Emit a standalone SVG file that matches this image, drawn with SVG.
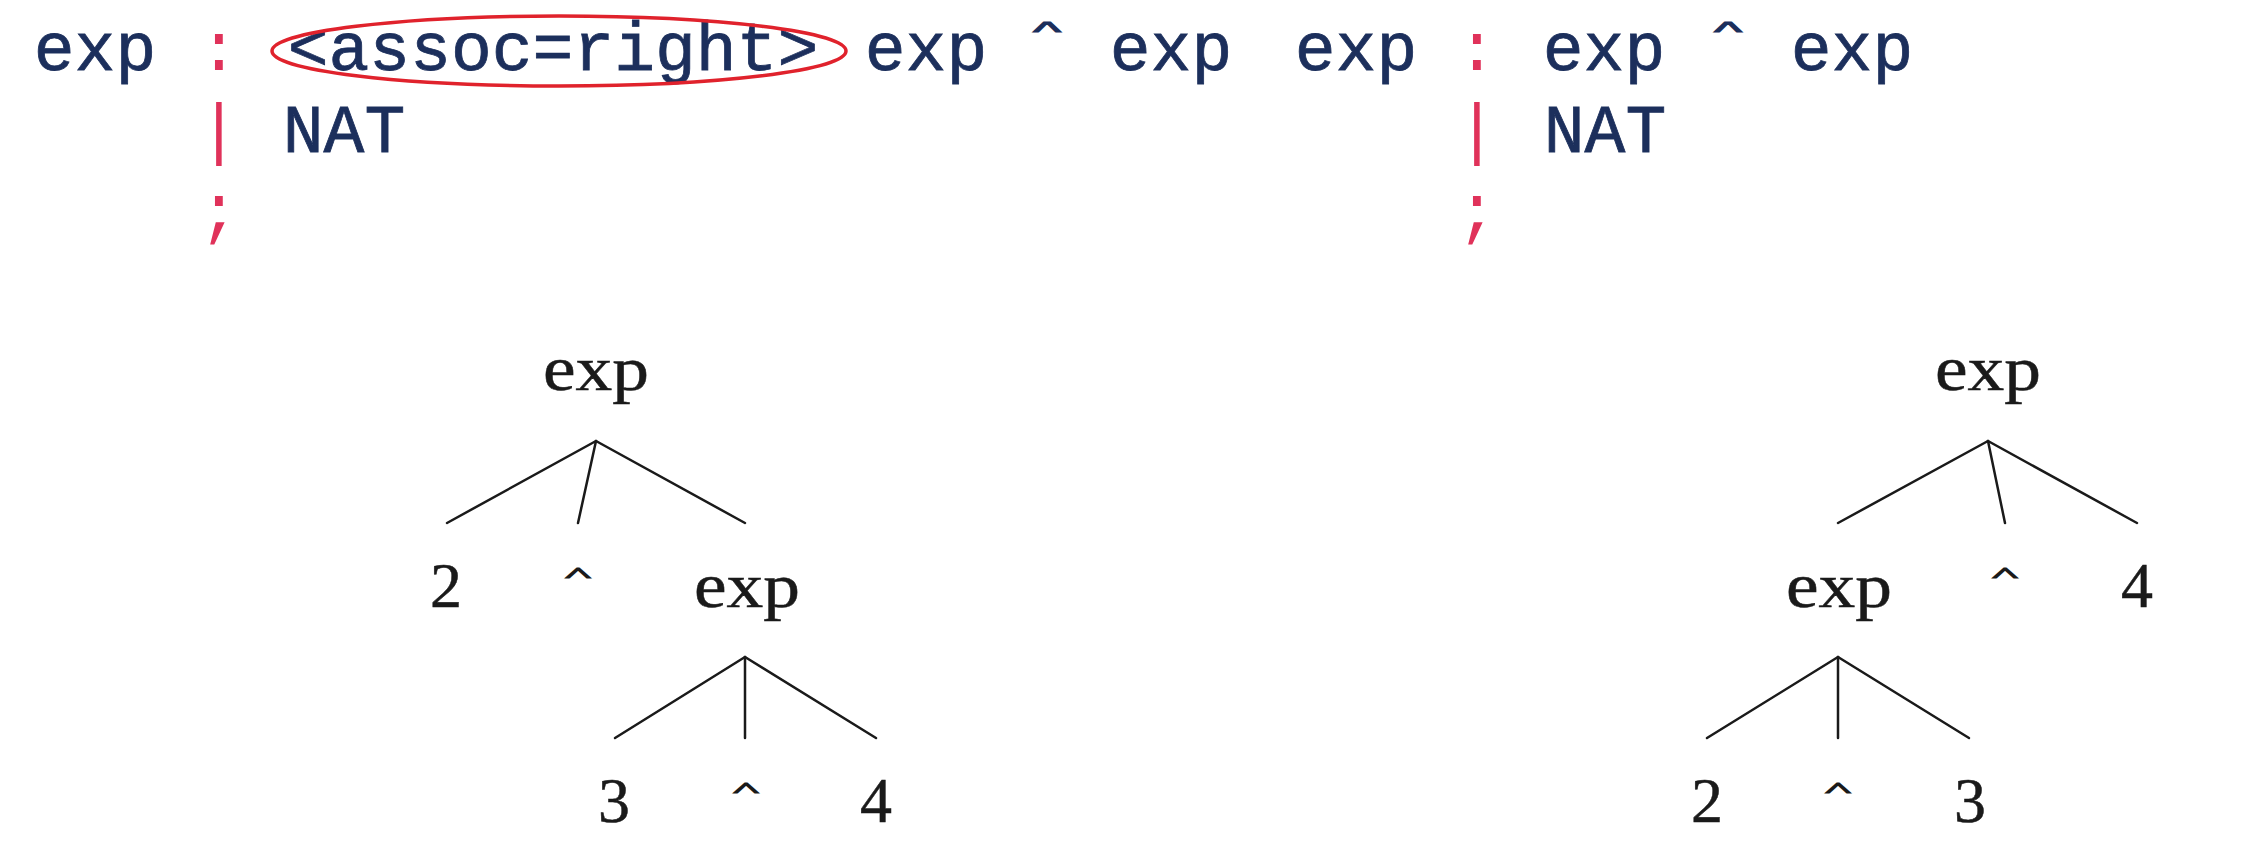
<svg xmlns="http://www.w3.org/2000/svg" width="2248" height="858" viewBox="0 0 2248 858">
<style>
.code{font-family:"Liberation Mono","DejaVu Sans Mono",monospace;font-size:68px;fill:#1c2f5c;stroke:#1c2f5c;stroke-width:0.8;text-anchor:middle}
.ccaret{stroke-width:3}
.punct{font-family:"Liberation Mono","DejaVu Sans Mono",monospace;font-size:68px;fill:#e0325a;text-anchor:middle}
.tree{font-family:"Liberation Serif","DejaVu Serif",serif;font-size:64px;fill:#1a1a1a;stroke:#1a1a1a;stroke-width:0.5;text-anchor:middle}
.tcaret{stroke-width:3}
.edge{stroke:#1a1a1a;stroke-width:2.5;fill:none;stroke-linecap:round}
</style>
<rect width="2248" height="858" fill="#ffffff"/>
<g id="grammar-left">
<text class="code" x="95" y="70">exp</text>
<text class="punct" x="219" y="70">:</text>
<text class="code" x="553" y="70">&lt;assoc=right&gt;</text>
<text class="code" x="926" y="70">exp</text>
<text class="code ccaret" transform="translate(1047 37) scale(0.85 0.32)">^</text>
<text class="code" x="1171" y="70">exp</text>
<text class="punct" x="219" y="152">|</text>
<text class="code" x="344" y="152">NAT</text>
<text class="punct" x="219" y="232">;</text>
<ellipse cx="559" cy="51" rx="287" ry="35" fill="none" stroke="#e0222c" stroke-width="3.5"/>
</g>
<g id="grammar-right">
<text class="code" x="1356" y="70">exp</text>
<text class="punct" x="1477" y="70">:</text>
<text class="code" x="1604" y="70">exp</text>
<text class="code ccaret" transform="translate(1728 37) scale(0.85 0.32)">^</text>
<text class="code" x="1852" y="70">exp</text>
<text class="punct" x="1477" y="152">|</text>
<text class="code" x="1605" y="152">NAT</text>
<text class="punct" x="1477" y="232">;</text>
</g>
<g id="connectors">
<line class="edge" x1="596" y1="441" x2="447" y2="523"/>
<line class="edge" x1="596" y1="441" x2="578" y2="523"/>
<line class="edge" x1="596" y1="441" x2="745" y2="523"/>
<line class="edge" x1="745" y1="657" x2="615" y2="738"/>
<line class="edge" x1="745" y1="657" x2="745" y2="738"/>
<line class="edge" x1="745" y1="657" x2="876" y2="738"/>
<line class="edge" x1="1988" y1="441" x2="1838" y2="523"/>
<line class="edge" x1="1988" y1="441" x2="2005" y2="523"/>
<line class="edge" x1="1988" y1="441" x2="2137" y2="523"/>
<line class="edge" x1="1838" y1="657" x2="1707" y2="738"/>
<line class="edge" x1="1838" y1="657" x2="1838" y2="738"/>
<line class="edge" x1="1838" y1="657" x2="1969" y2="738"/>
</g>
<g id="left-root"><text class="tree" x="596" y="390" textLength="106" lengthAdjust="spacingAndGlyphs">exp</text></g>
<g id="left-2"><text class="tree" x="446" y="607">2</text></g>
<g id="left-caret1"><text class="tree tcaret" transform="translate(578 582) scale(0.85 0.34)">^</text></g>
<g id="left-exp2"><text class="tree" x="747" y="607" textLength="106" lengthAdjust="spacingAndGlyphs">exp</text></g>
<g id="left-3"><text class="tree" x="614" y="822">3</text></g>
<g id="left-caret2"><text class="tree tcaret" transform="translate(746 797) scale(0.85 0.34)">^</text></g>
<g id="left-4"><text class="tree" x="876" y="822">4</text></g>
<g id="right-root"><text class="tree" x="1988" y="390" textLength="106" lengthAdjust="spacingAndGlyphs">exp</text></g>
<g id="right-exp2"><text class="tree" x="1839" y="607" textLength="106" lengthAdjust="spacingAndGlyphs">exp</text></g>
<g id="right-caret1"><text class="tree tcaret" transform="translate(2005 582) scale(0.85 0.34)">^</text></g>
<g id="right-4"><text class="tree" x="2137" y="607">4</text></g>
<g id="right-2"><text class="tree" x="1707" y="822">2</text></g>
<g id="right-caret2"><text class="tree tcaret" transform="translate(1838 797) scale(0.85 0.34)">^</text></g>
<g id="right-3"><text class="tree" x="1970" y="822">3</text></g>
</svg>
